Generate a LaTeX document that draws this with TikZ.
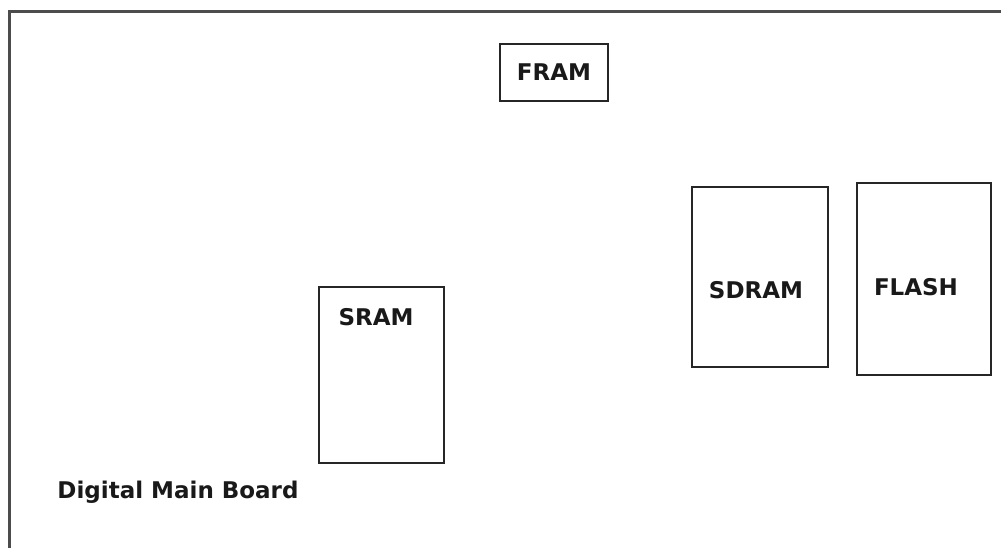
\documentclass[tikz,border=0pt]{standalone}
\usepackage{fontspec}
\setmainfont{DejaVu Sans}
\usetikzlibrary{positioning}

\begin{document}
\begin{tikzpicture}[x=1pt, y=-1pt,
    chip/.style={draw=black!85, line width=2pt, rectangle, inner sep=0pt},
    lbl/.style={font=\fontsize{23}{27}\selectfont\bfseries, inner sep=0pt, text=black!90}]
    \useasboundingbox (0,0) rectangle (1001,547);
    \clip (0,0) rectangle (1001,547);
    % board outline
    \draw[black!70, line width=3pt] (9,11) rectangle (1020,570);
    % memory chips
    \node[chip, minimum width=108pt, minimum height=57pt] (fram) at (554,72.5) {};
    \node[chip, minimum width=136pt, minimum height=180pt] (sdram) at (760,277) {};
    \node[chip, minimum width=134pt, minimum height=192pt] (flash) at (924,279) {};
    \node[chip, minimum width=125pt, minimum height=176pt] (sram) at (381.5,375) {};
    % labels
    \node[lbl] (framtext) at (fram.center) {FRAM};
    \node[lbl] (sdramtext) at (756,290) {SDRAM};
    \node[lbl] (flashtext) at (916,287) {FLASH};
    \node[lbl] (sramtext) at (376,317) {SRAM};
    \node[lbl] (board) at (178,492) {Digital Main Board};
\end{tikzpicture}
\end{document}
